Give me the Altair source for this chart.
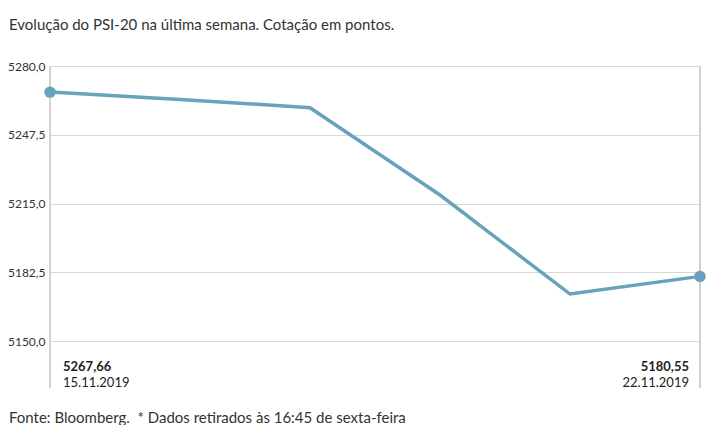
import altair as alt
import pandas as pd

# ---- data ----
dates = ["15.11.2019", "18.11.2019", "19.11.2019", "20.11.2019", "21.11.2019", "22.11.2019"]
values = [5267.66, 5264.2, 5260.3, 5219.0, 5172.2, 5180.55]
y_ticks = [5150.0, 5182.5, 5215.0, 5247.5, 5280.0]
title_text = "Evolução do PSI-20 na última semana. Cotação em pontos."
source_text = "Fonte: Bloomberg.\u00a0 * Dados retirados às 16:45 de sexta-feira"

LINE = "#68a2bc"
FONT = "Lato"

df = pd.DataFrame({"date": dates, "value": values})
ends = pd.DataFrame({
    "date": [dates[0], dates[-1]],
    "value": [values[0], values[-1]],
    "label": [f"{values[0]:.2f}".replace(".", ","), f"{values[-1]:.2f}".replace(".", ",")],
})
first = ends.iloc[[0]]
last = ends.iloc[[1]]

x_enc = alt.X("date:O", sort=dates, scale=alt.Scale(type="point", padding=0), axis=None)
y_scale = alt.Scale(domain=[5150, 5280], nice=False, zero=False)

base = alt.Chart(df)

line = base.mark_line(color=LINE, strokeWidth=3.5).encode(
    x=x_enc,
    y=alt.Y("value:Q", scale=y_scale, title=None,
            axis=alt.Axis(values=y_ticks,
                          labelExpr="replace(format(datum.value, '.1f'), '.', ',')",
                          domain=False, ticks=False, grid=True,
                          gridColor="#d8d8d8", gridWidth=1.2,
                          labelPadding=5, labelFontSize=12, labelFont=FONT,
                          labelColor="#333333")),
)

rule_left = alt.Chart(first).mark_rule(color="#a8a8a8", strokeWidth=1).encode(
    x=x_enc, y=alt.value(0), y2=alt.value(322))
rule_right = alt.Chart(last).mark_rule(color="#cfcfcf", strokeWidth=2).encode(
    x=x_enc, y=alt.value(0), y2=alt.value(322))

points = alt.Chart(ends).mark_circle(color=LINE, opacity=1, size=130).encode(
    x=x_enc, y=alt.Y("value:Q", scale=y_scale))

val_left = alt.Chart(first).mark_text(align="left", dx=13, fontWeight="bold", fontSize=13,
                                      font=FONT, color="#222222", baseline="alphabetic").encode(
    x=x_enc, y=alt.value(305), text="label:N")
date_left = alt.Chart(first).mark_text(align="left", dx=13, fontSize=13, font=FONT,
                                       color="#222222", baseline="alphabetic").encode(
    x=x_enc, y=alt.value(321), text="date:N")
val_right = alt.Chart(last).mark_text(align="right", dx=-11, fontWeight="bold", fontSize=13,
                                      font=FONT, color="#222222", baseline="alphabetic").encode(
    x=x_enc, y=alt.value(305), text="label:N")
date_right = alt.Chart(last).mark_text(align="right", dx=-11, fontSize=13, font=FONT,
                                       color="#222222", baseline="alphabetic").encode(
    x=x_enc, y=alt.value(321), text="date:N")

title = alt.Chart(pd.DataFrame({"t": [title_text]})).mark_text(
    align="left", baseline="alphabetic", fontSize=15, font=FONT, color="#333333").encode(
    x=alt.value(-41), y=alt.value(-36), text="t:N")
source = alt.Chart(pd.DataFrame({"t": [source_text]})).mark_text(
    align="left", baseline="alphabetic", fontSize=15, font=FONT, color="#333333").encode(
    x=alt.value(-41), y=alt.value(357), text="t:N")

chart = alt.layer(
    line, rule_left, rule_right, points, val_left, date_left, val_right, date_right, title, source
).properties(
    width=650, height=275,
    autosize=alt.AutoSizeParams(type="none"),
    padding={"left": 42, "top": 58, "right": 7, "bottom": 84},
).configure_view(stroke=None)

chart.save("out.html", embed_options={"renderer": "svg", "actions": False})
